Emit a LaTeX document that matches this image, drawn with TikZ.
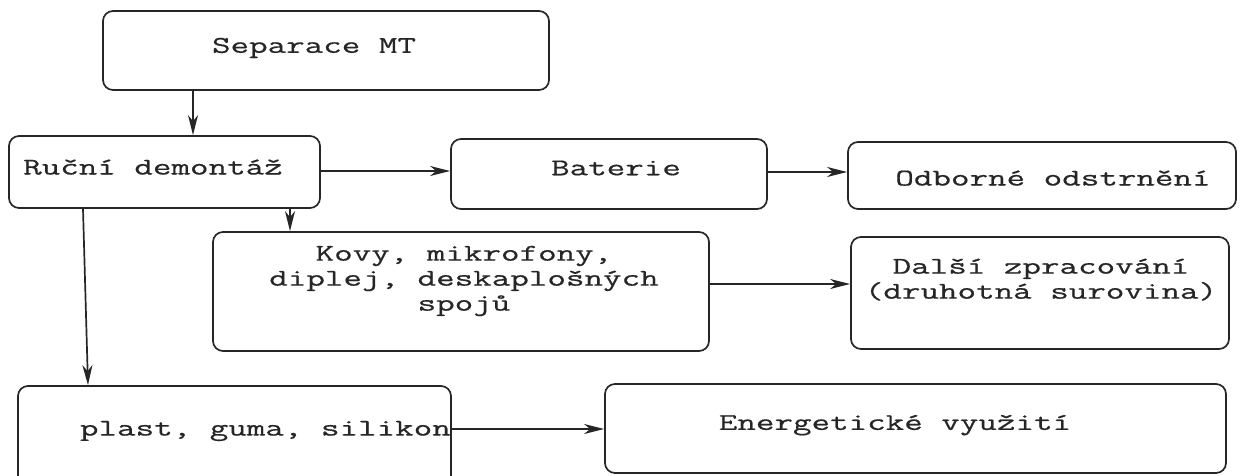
\documentclass[tikz,border=0pt]{standalone}
\usepackage{fontspec}
\setmonofont[FakeStretch=1.5,FakeBold=0.6]{Latin Modern Mono}
\usetikzlibrary{arrows.meta}
\begin{document}
\begin{tikzpicture}[x=1pt,y=-1pt,
  box/.style={draw=black!85, line width=1.7pt, rounded corners=10pt, inner sep=0pt},
  txt/.style={font=\ttfamily\fontsize{24}{25}\selectfont, text=black!85, inner sep=0pt, align=center},
  arr/.style={draw=black!85, line width=1.7pt, -{Stealth[length=20pt,width=10pt,inset=6pt]}}]
\clip (0,0) rectangle (1243,476);
\fill[white] (0,0) rectangle (1243,476);
% boxes
\node[box, minimum width=446pt, minimum height=79pt] (sep) at (326,50.5) {};
\node[box, minimum width=311pt, minimum height=72pt] (ruc) at (164.5,172) {};
\node[box, minimum width=316pt, minimum height=70pt] (bat) at (609,174) {};
\node[box, minimum width=388pt, minimum height=67pt] (odb) at (1042,175.5) {};
\node[box, minimum width=496pt, minimum height=119pt] (kov) at (461,291.5) {};
\node[box, minimum width=378pt, minimum height=112pt] (dal) at (1040,293) {};
\node[box, minimum width=433pt, minimum height=110pt] (pla) at (234.5,441) {};
\node[box, minimum width=621pt, minimum height=89pt] (ene) at (915.5,428.5) {};
% texts
\node[txt] (tsep) at (314,48) {Separace MT};
\node[txt, anchor=west] (truc) at (23,167) {Ruční demontáž};
\node[txt] (tbat) at (616,168) {Baterie};
\node[txt] (todb) at (1053,178) {Odborné odstrnění};
\node[txt] (tkov) at (464,281) {Kovy, mikrofony,\\diplej, deskaplošných\\spojů};
\node[txt] (tdal) at (1041,279.5) {Další zpracování\\(druhotná surovina)};
\node[txt, anchor=east] (tpla) at (451,431) {plast, guma, silikon};
\node[txt] (tene) at (895,425) {Energetické využití};
% connectors
\draw[arr] (sep.south -| 193,0) -- (ruc.north -| 193,0);
\draw[arr] (ruc.east |- 0,171) -- (bat.west |- 0,171);
\draw[arr] (bat.east |- 0,172) -- (odb.west |- 0,172);
\draw[arr] (ruc.south -| 290,0) -- (kov.north -| 290,0);
\draw[arr] (ruc.south -| 83,0) -- (pla.north -| 88,0);
\draw[arr] (kov.east |- 0,284) -- (dal.west |- 0,284);
\draw[arr] (pla.east |- 0,429) -- (ene.west |- 0,429);
\end{tikzpicture}
\end{document}
